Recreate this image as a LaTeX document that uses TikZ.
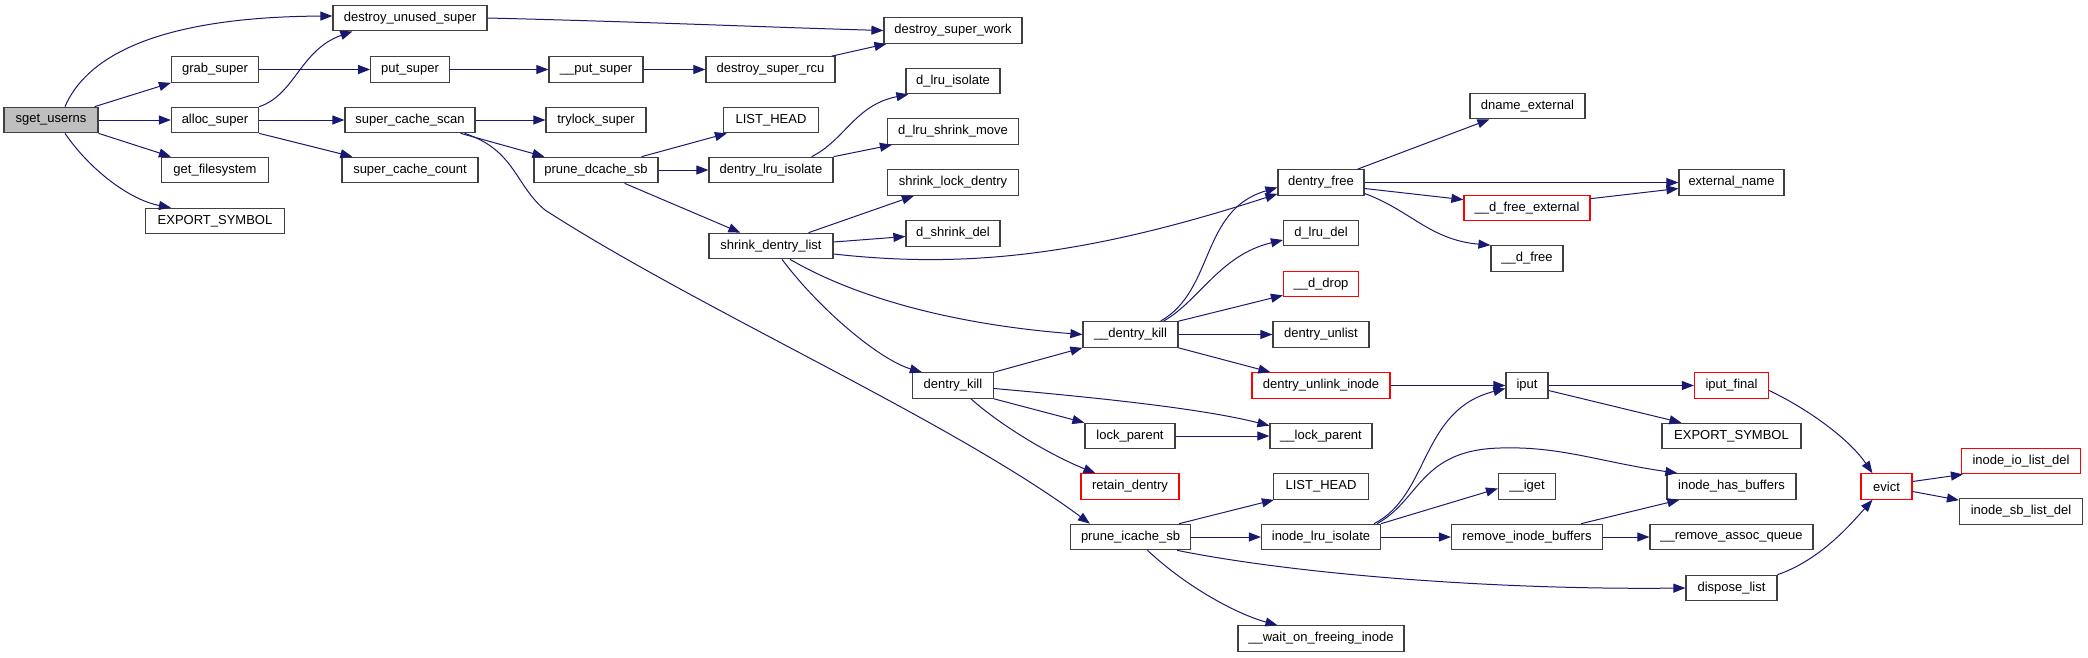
\documentclass[tikz,border=0pt]{standalone}
\usepackage{fontspec}
\setmainfont{Liberation Sans}
\usetikzlibrary{arrows.meta}
\definecolor{edgec}{HTML}{191970}
\definecolor{boxc}{HTML}{404040}
\definecolor{redc}{HTML}{FF0000}
\definecolor{grayfill}{HTML}{BFBFBF}
\tikzset{
  fn/.style={draw=boxc, line width=1.2pt, fill=white, rectangle, inner sep=0pt,
    minimum height=25.5pt, font=\fontsize{13}{15}\selectfont},
  redfn/.style={fn, draw=redc},
  rootfn/.style={fn, fill=grayfill},
  call/.style={draw=edgec, line width=1pt, -{Triangle[length=12pt,width=9pt]}, fill=none},
}
\begin{document}
\begin{tikzpicture}[x=1pt,y=-1pt]
\useasboundingbox (0,0) rectangle (2088,657);
% nodes
\node[rootfn, minimum width=94pt] (sget) at (51,120) {sget\_userns};
\node[fn, minimum width=154pt] (dus) at (410,18) {destroy\_unused\_super};
\node[fn, minimum width=87pt] (grab) at (215,69.5) {grab\_super};
\node[fn, minimum width=87pt] (alloc) at (215,120) {alloc\_super};
\node[fn, minimum width=107pt] (getfs) at (215,170) {get\_filesystem};
\node[fn, minimum width=139pt] (exp1) at (215,221) {EXPORT\_SYMBOL};
\node[fn, minimum width=78.5pt] (put) at (410,69.5) {put\_super};
\node[fn, minimum width=130pt] (scs) at (410,120) {super\_cache\_scan};
\node[fn, minimum width=136pt] (scc) at (410,170) {super\_cache\_count};
\node[fn, minimum width=94pt] (psup) at (596,69.5) {\_\_put\_super};
\node[fn, minimum width=100pt] (trylock) at (596,120) {trylock\_super};
\node[fn, minimum width=124pt] (pdsb) at (596,170) {prune\_dcache\_sb};
\node[fn, minimum width=138pt] (dsw) at (953,30.5) {destroy\_super\_work};
\node[fn, minimum width=129pt] (dsr) at (770.5,69.5) {destroy\_super\_rcu};
\node[fn, minimum width=94pt] (dlri) at (953,81) {d\_lru\_isolate};
\node[fn, minimum width=95pt] (lh1) at (771,120) {LIST\_HEAD};
\node[fn, minimum width=131pt] (dlsm) at (953,131.5) {d\_lru\_shrink\_move};
\node[fn, minimum width=124pt] (dli) at (771,170) {dentry\_lru\_isolate};
\node[fn, minimum width=131pt] (sld) at (953,182.5) {shrink\_lock\_dentry};
\node[fn, minimum width=94pt] (dsd) at (953,233.5) {d\_shrink\_del};
\node[fn, minimum width=124pt] (sdl) at (771,246) {shrink\_dentry\_list};
\node[fn, minimum width=115pt] (dnext) at (1527.5,106) {dname\_external};
\node[fn, minimum width=86pt] (dfree) at (1321,182.5) {dentry\_free};
\node[fn, minimum width=105pt] (extname) at (1731.5,182.5) {external\_name};
\node[redfn, minimum width=126pt] (dfe) at (1527,208) {\_\_d\_free\_external};
\node[fn, minimum width=75pt] (dlrudel) at (1321,233) {d\_lru\_del};
\node[fn, minimum width=72pt] (dfr) at (1527,258.5) {\_\_d\_free};
\node[redfn, minimum width=75pt] (ddrop) at (1321,284) {\_\_d\_drop};
\node[fn, minimum width=96pt] (dunlist) at (1321,334.5) {dentry\_unlist};
\node[fn, minimum width=95pt] (dkill2) at (1130.5,334.5) {\_\_dentry\_kill};
\node[fn, minimum width=81pt] (dkill) at (953,385.5) {dentry\_kill};
\node[fn, minimum width=90pt] (lockp) at (1130,436) {lock\_parent};
\node[redfn, minimum width=98pt] (retain) at (1130,486.5) {retain\_dentry};
\node[fn, minimum width=120pt] (pis) at (1130.5,537) {prune\_icache\_sb};
\node[redfn, minimum width=138pt] (dui) at (1321,385.5) {dentry\_unlink\_inode};
\node[fn, minimum width=42pt] (iput) at (1527,385.5) {iput};
\node[redfn, minimum width=74pt] (iputf) at (1731.5,385.5) {iput\_final};
\node[fn, minimum width=102pt] (lockp2) at (1321,436) {\_\_lock\_parent};
\node[fn, minimum width=139pt] (exp2) at (1731.5,436) {EXPORT\_SYMBOL};
\node[fn, minimum width=95pt] (lh2) at (1321,486.5) {LIST\_HEAD};
\node[fn, minimum width=57pt] (iget) at (1527,486.5) {\_\_iget};
\node[fn, minimum width=129pt] (ihb) at (1731.5,486.5) {inode\_has\_buffers};
\node[redfn, minimum width=51pt] (evict) at (1886.5,486.5) {evict};
\node[redfn, minimum width=119pt] (iold) at (2021,461) {inode\_io\_list\_del};
\node[fn, minimum width=123pt] (isld) at (2021,511.5) {inode\_sb\_list\_del};
\node[fn, minimum width=119pt] (ilru) at (1321,537) {inode\_lru\_isolate};
\node[fn, minimum width=151pt] (rib) at (1527,537) {remove\_inode\_buffers};
\node[fn, minimum width=163pt] (raq) at (1731.5,537) {\_\_remove\_assoc\_queue};
\node[fn, minimum width=91pt] (displ) at (1731.5,588) {dispose\_list};
\node[fn, minimum width=166pt] (wofi) at (1321,638.5) {\_\_wait\_on\_freeing\_inode};
% edges
\draw[call] ([xshift=14pt]sget.north) .. controls (85,60) and (150,17) .. ([yshift=2pt]dus.west);
\draw[call] ([xshift=-4pt]sget.north east) -- (grab.south west);
\draw[call] (sget.east) -- (alloc.west);
\draw[call] (sget.south east) -- ([xshift=10pt]getfs.north west);
\draw[call] ([xshift=14pt]sget.south) .. controls (90,170) and (130,200) .. ([xshift=26pt]exp1.north west);
\draw[call] (grab.east) -- (put.west);
\draw[call] (alloc.north east) .. controls (295,95) and (300,50) .. ([xshift=20pt]dus.south west);
\draw[call] (alloc.east) -- (scs.west);
\draw[call] (alloc.south east) -- ([xshift=11pt]scc.north west);
\draw[call] (dus.east) .. controls (650,22) and (760,27) .. (dsw.west);
\draw[call] (put.east) -- (psup.west);
\draw[call] (psup.east) -- (dsr.west);
\draw[call] ([xshift=-4pt]dsr.north east) -- ([xshift=3pt]dsw.south west);
\draw[call] (scs.east) -- (trylock.west);
\draw[call] ([xshift=-15pt]scs.south east) -- ([xshift=11pt]pdsb.north west);
\draw[call] ([xshift=-11pt]scs.south east) .. controls (515,150) and (515,185) .. (545,210)
  .. controls (700,310) and (950,420) .. ([xshift=20pt]pis.north west);
\draw[call] ([xshift=-17pt]pdsb.north east) -- ([xshift=4pt]lh1.south west);
\draw[call] (pdsb.east) -- (dli.west);
\draw[call] ([xshift=-34pt]pdsb.south east) -- ([xshift=32pt]sdl.north west);
\draw[call] ([xshift=-22pt]dli.north east) .. controls (845,140) and (855,105) .. ([xshift=3pt]dlri.south west);
\draw[call] (dli.north east) -- ([xshift=5pt]dlsm.south west);
\draw[call] ([xshift=-25pt]sdl.north east) -- ([xshift=27pt]sld.south west);
\draw[call] ([yshift=4pt]sdl.east) -- ([yshift=-3pt]dsd.west);
\draw[call] ([yshift=-8pt]sdl.east) .. controls (960,268) and (1080,258) .. ([yshift=2pt]dfree.south west);
\draw[call] ([xshift=19pt]sdl.south) .. controls (860,300) and (960,325) .. (dkill2.west);
\draw[call] ([xshift=11pt]sdl.south) .. controls (820,310) and (880,360) .. ([xshift=10pt]dkill.north west);
\draw[call] (dkill.north east) -- (dkill2.south west);
\draw[call] ([yshift=-3pt]dkill.east) .. controls (1090,397) and (1200,408) .. ([yshift=-3pt]lockp2.north west);
\draw[call] (dkill.south east) -- (lockp.north west);
\draw[call] ([xshift=18pt]dkill.south) .. controls (1000,425) and (1050,455) .. ([xshift=15pt]retain.north west);
\draw[call] (lockp.east) -- (lockp2.west);
\draw[call] ([xshift=30pt]dkill2.north) .. controls (1215,290) and (1200,210) .. ([yshift=-5pt]dfree.west);
\draw[call] ([xshift=33pt]dkill2.north) .. controls (1200,300) and (1220,255) .. ([yshift=-7pt]dlrudel.west);
\draw[call] (dkill2.north east) -- ([yshift=2pt]ddrop.south west);
\draw[call] (dkill2.east) -- (dunlist.west);
\draw[call] (dkill2.south east) -- ([xshift=19pt]dui.north west);
\draw[call] ([xshift=-7pt]dfree.north east) -- ([xshift=20pt]dnext.south west);
\draw[call] (dfree.east) -- (extname.west);
\draw[call] ([yshift=-6pt]dfree.east) -- ([yshift=-5pt]dfe.north west);
\draw[call] ([yshift=-11pt]dfree.east) .. controls (1410,210) and (1430,240) .. (dfr.north west);
\draw[call] ([yshift=-4pt]dfe.north east) -- ([yshift=-6pt]extname.west);
\draw[call] (dui.east) -- (iput.west);
\draw[call] (iput.east) -- (iputf.west);
\draw[call] ([yshift=-5pt]iput.east) -- ([xshift=20pt]exp2.north west);
\draw[call] ([yshift=-5pt]iputf.east) .. controls (1810,410) and (1850,440) .. ([xshift=12pt]evict.north west);
\draw[call] ([yshift=5pt]evict.east) -- ([xshift=2pt]iold.south west);
\draw[call] ([yshift=-5pt]evict.east) -- ([yshift=-2pt]isld.north west);
\draw[call] ([xshift=-12pt]pis.north east) -- ([xshift=1pt]lh2.south west);
\draw[call] (pis.east) -- (ilru.west);
\draw[call] ([xshift=-14pt]pis.south east) .. controls (1300,575) and (1500,590) .. (displ.west);
\draw[call] ([xshift=17pt]pis.south) .. controls (1190,590) and (1240,615) .. ([xshift=40pt]wofi.north west);
\draw[call] ([xshift=-7pt]ilru.north east) .. controls (1430,495) and (1420,410) .. ([yshift=-3pt]iput.west);
\draw[call] ([xshift=-4pt]ilru.north east) .. controls (1420,500) and (1420,450) .. (1500,448)
  .. controls (1560,446) and (1600,462) .. ([xshift=11pt]ihb.north west);
\draw[call] (ilru.north east) -- ([yshift=-2pt]iget.west);
\draw[call] (ilru.east) -- (rib.west);
\draw[call] ([xshift=-22pt]rib.north east) -- ([xshift=13pt]ihb.south west);
\draw[call] (rib.east) -- (raq.west);
\draw[call] (displ.north east) .. controls (1820,560) and (1850,525) .. ([xshift=12pt]evict.south west);
\end{tikzpicture}
\end{document}
